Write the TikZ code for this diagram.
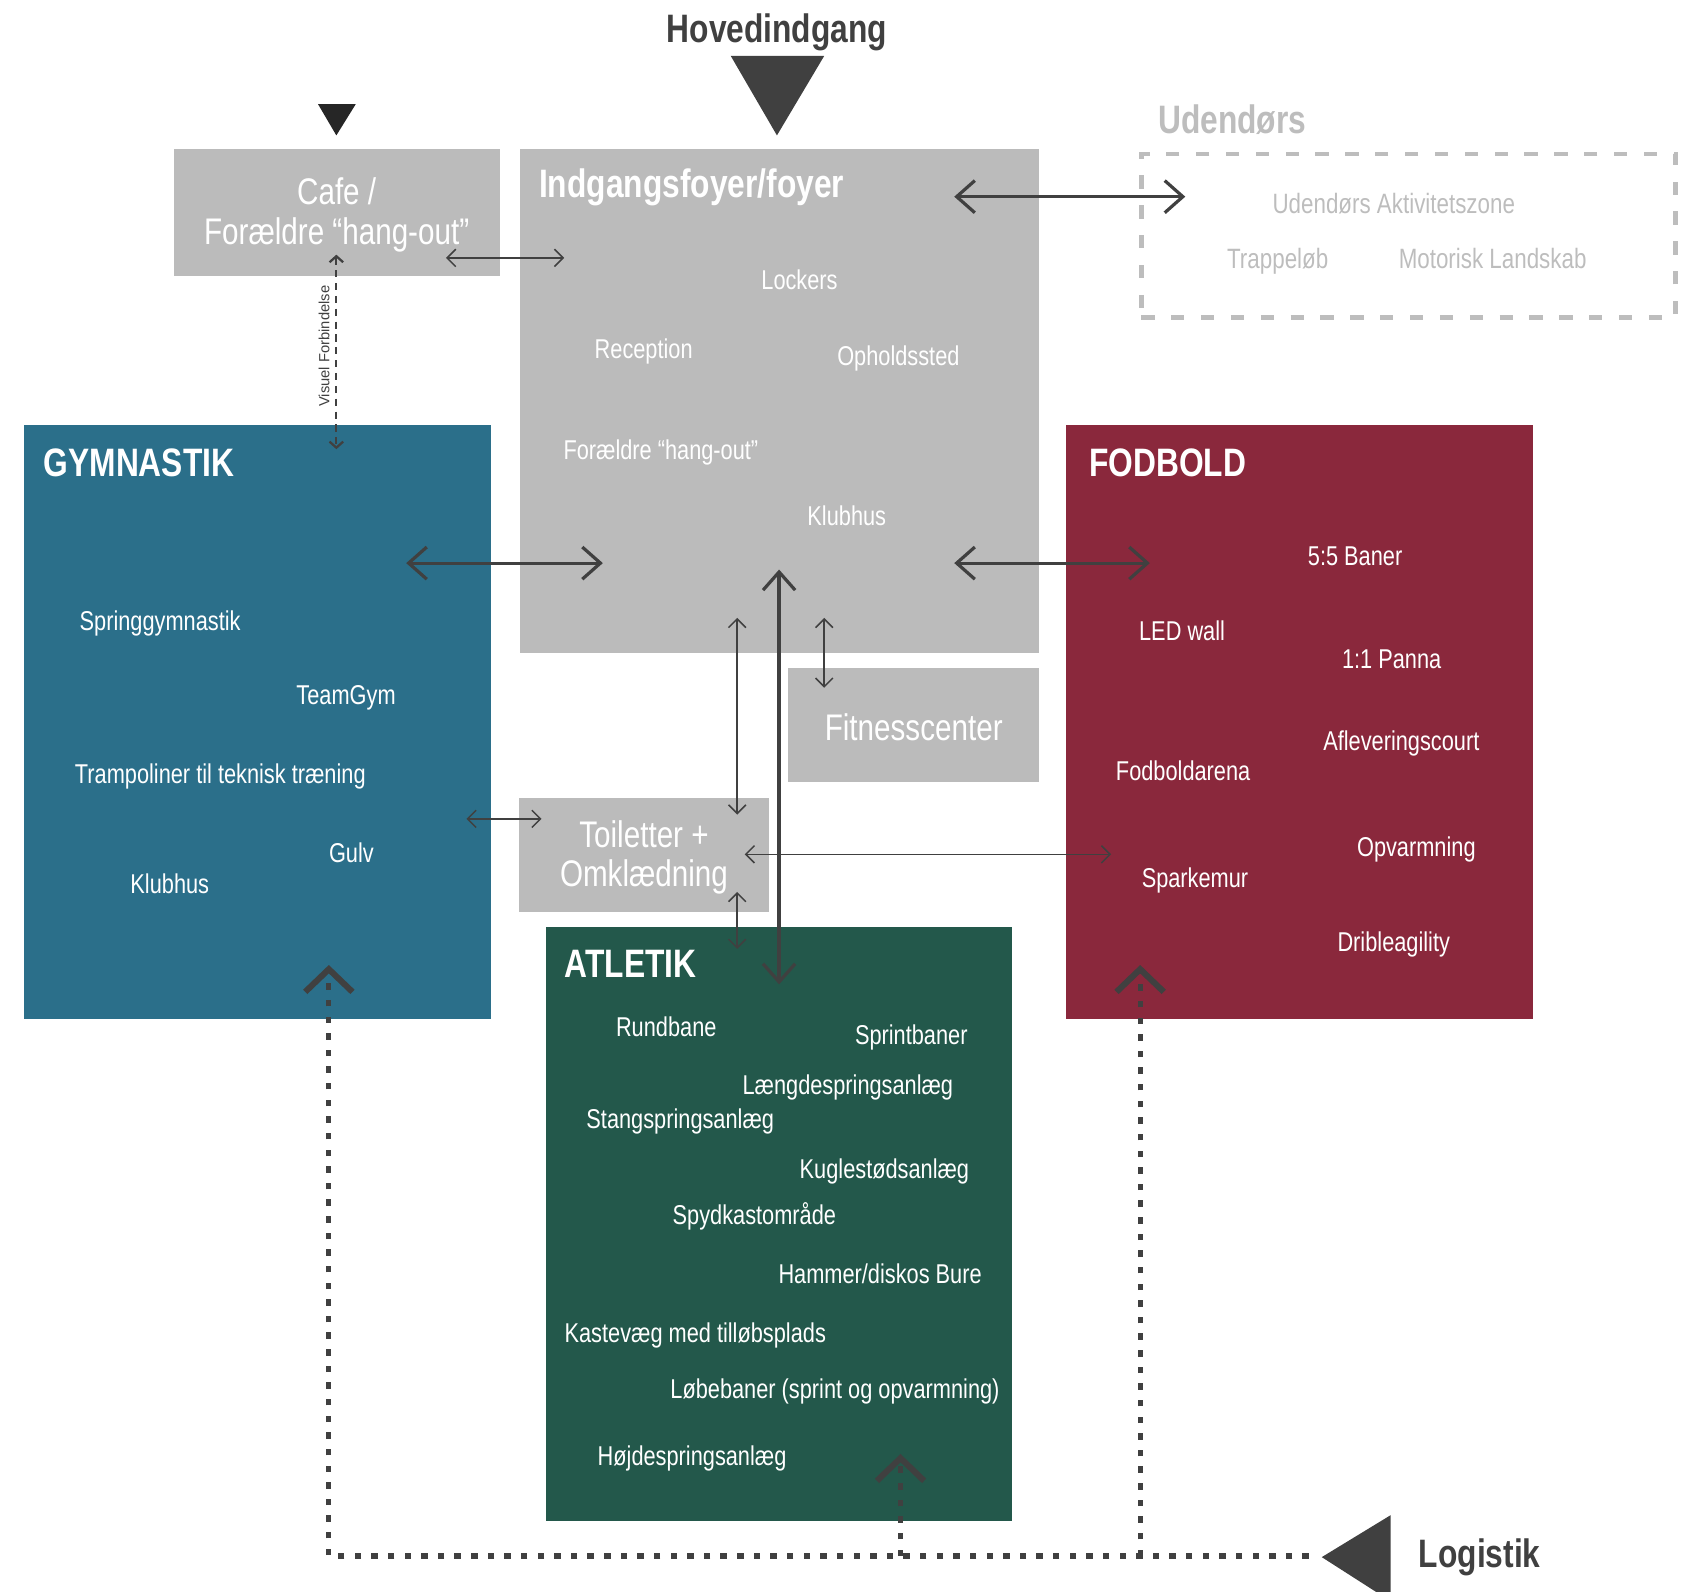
\documentclass[tikz,border=0pt]{standalone}
\usepackage{fontspec}
\setmainfont{Liberation Sans}[FakeStretch=0.8]
\newfontfamily\plainsans{Liberation Sans}
\usetikzlibrary{arrows.meta}

\definecolor{boxgray}{HTML}{BBBBBB}
\definecolor{gymblue}{HTML}{2B6F8A}
\definecolor{fodred}{HTML}{8A283C}
\definecolor{atlgreen}{HTML}{23584B}
\definecolor{darkink}{HTML}{404040}
\definecolor{paleink}{HTML}{BDBDBD}

\tikzset{
  room/.style={inner sep=0pt, anchor=north west},
  item/.style={text=white, inner sep=0pt, anchor=mid, font=\fontsize{7.2}{8.6}\selectfont},
  outitem/.style={item, text=paleink, font=\fontsize{7.4}{8.8}\selectfont},
  roomtitle/.style={text=white, inner sep=0pt, anchor=west, font=\bfseries\fontsize{10.5}{12}\selectfont},
  roomtext/.style={text=white, align=center, yshift=-0.6pt, font=\fontsize{9.8}{10.5}\selectfont},
  biglink/.style={draw=darkink, line width=0.85pt,
    {Straight Barb[length=4.8pt,width=8.5pt]}-{Straight Barb[length=4.8pt,width=8.5pt]}},
  link/.style={draw=darkink, line width=0.4pt,
    {Straight Barb[length=2.3pt,width=4.6pt]}-{Straight Barb[length=2.3pt,width=4.6pt]}},
  supply/.style={draw=darkink, line width=1.4pt, dash pattern=on 1.7pt off 2.7pt},
  supplytip/.style={-{Straight Barb[length=6pt,width=12.5pt,line width=1.6pt]}}
}

\begin{document}
\begin{tikzpicture}[x=0.01cm,y=-0.01cm]
  \useasboundingbox (0,0) rectangle (1568,1481);
  \clip (0,0) rectangle (1568,1481);

  % entrances
  \node[text=darkink, font=\bfseries\fontsize{10.5}{12}\selectfont] (mainlabel) at (723,30) {Hovedindgang};
  \fill[darkink] (680,52) -- (767,52) -- (723,126) -- cycle;
  \fill[black!85] (296,97) -- (331,97) -- (313,126) -- cycle;

  % rooms
  \node[room, fill=boxgray, minimum width=3.03cm, minimum height=1.18cm] (cafe) at (161,138) {};
  \node[roomtext] at (cafe.center) {Cafe /\\Forældre “hang-out”};

  \node[room, fill=boxgray, minimum width=4.83cm, minimum height=4.69cm] (foyer) at (483,138) {};
  \node[roomtitle] at (501,174) {Indgangsfoyer/foyer};
  \node[item] at (744,260) {Lockers};
  \node[item] at (599,324) {Reception};
  \node[item] at (836,331) {Opholdssted};
  \node[item] at (615,418) {Forældre “hang-out”};
  \node[item] at (788,480) {Klubhus};

  \node[room, fill=boxgray, minimum width=2.33cm, minimum height=1.06cm] (fitness) at (733,621) {};
  \node[roomtext] at (fitness.center) {Fitnesscenter};

  \node[room, fill=boxgray, minimum width=2.33cm, minimum height=1.06cm] (toilet) at (482,742) {};
  \node[roomtext] at (toilet.center) {Toiletter +\\Omklædning};

  \node[room, fill=gymblue, minimum width=4.34cm, minimum height=5.52cm] (gym) at (22,395) {};
  \node[roomtitle] at (40,431) {GYMNASTIK};
  \node[item] at (149,577) {Springgymnastik};
  \node[item] at (322,646) {TeamGym};
  \node[item] at (205,720) {Trampoliner til teknisk træning};
  \node[item] at (327,793) {Gulv};
  \node[item] at (158,822) {Klubhus};

  \node[room, fill=fodred, minimum width=4.35cm, minimum height=5.52cm] (fodbold) at (991,395) {};
  \node[roomtitle] at (1013,431) {FODBOLD};
  \node[item] at (1261,517) {5:5 Baner};
  \node[item] at (1100,587) {LED wall};
  \node[item] at (1295,613) {1:1 Panna};
  \node[item] at (1304,689) {Afleveringscourt};
  \node[item] at (1101,717) {Fodboldarena};
  \node[item] at (1318,788) {Opvarmning};
  \node[item] at (1112,817) {Sparkemur};
  \node[item] at (1297,876) {Dribleagility};

  \node[room, fill=atlgreen, minimum width=4.34cm, minimum height=5.52cm] (atletik) at (507,862) {};
  \node[roomtitle] at (525,897) {ATLETIK};
  \node[item] at (620,955) {Rundbane};
  \node[item] at (848,963) {Sprintbaner};
  \node[item] at (789,1009) {Længdespringsanlæg};
  \node[item] at (633,1041) {Stangspringsanlæg};
  \node[item] at (823,1087) {Kuglestødsanlæg};
  \node[item] at (702,1130) {Spydkastområde};
  \node[item] at (819,1185) {Hammer/diskos Bure};
  \node[item] at (647,1240) {Kastevæg med tilløbsplads};
  \node[item] at (777,1292) {Løbebaner (sprint og opvarmning)};
  \node[item] at (644,1354) {Højdespringsanlæg};

  % outdoor zone
  \node[text=paleink, font=\bfseries\fontsize{10.5}{12}\selectfont, anchor=west, inner sep=0pt] (outlabel) at (1077,111) {Udendørs};
  \node[room, draw=paleink, line width=1.2pt, dash pattern=on 3.5pt off 4.4pt,
        minimum width=4.97cm, minimum height=1.52cm] (outdoor) at (1060,141) {};
  \node[outitem] at (1297,189) {Udendørs Aktivitetszone};
  \node[outitem] at (1189,241) {Trappeløb};
  \node[outitem] at (1389,241) {Motorisk Landskab};

  % connection points
  \coordinate (cafeE) at (415,240);
  \coordinate (foyerW) at (525,240);
  \coordinate (foyerNE) at (888,183);
  \coordinate (outdoorW) at (1103,183);
  \coordinate (cafeS) at (313,237);
  \coordinate (gymN) at (313,418);
  \coordinate (gymE) at (378,524);
  \coordinate (foyerSW) at (561,524);
  \coordinate (foyerSE) at (888,524);
  \coordinate (fodboldW) at (1070,524);
  \coordinate (foyerS1) at (686,575);
  \coordinate (toiletN) at (686,758);
  \coordinate (foyerS2) at (767,575);
  \coordinate (fitnessN) at (767,640);
  \coordinate (gymSE) at (434,762);
  \coordinate (toiletW) at (504,762);
  \coordinate (toiletE) at (693,795);
  \coordinate (fodboldSW) at (1034,795);
  \coordinate (toiletS) at (686,830);
  \coordinate (atletikN) at (686,883);
  \coordinate (foyerS) at (725,530);
  \coordinate (atletikNE) at (725,916);

  % links
  \draw[link] (cafeE) -- (foyerW);
  \draw[biglink] (foyerNE) -- (outdoorW);
  \draw[darkink, line width=0.6pt, dash pattern=on 1.9pt off 1.5pt,
        {Straight Barb[length=1.6pt,width=3.6pt]}-{Straight Barb[length=1.6pt,width=3.6pt]}]
        (cafeS) -- node[pos=0.47, above, rotate=90, inner sep=1.5pt, text=darkink,
        font=\plainsans\fontsize{3.9}{4.5}\selectfont] {Visuel Forbindelse} (gymN);
  \draw[biglink] (gymE) -- (foyerSW);
  \draw[biglink] (foyerSE) -- (fodboldW);
  \draw[link] (foyerS1) -- (toiletN);
  \draw[link] (foyerS2) -- (fitnessN);
  \draw[link] (gymSE) -- (toiletW);
  \draw[link] (toiletE) -- (fodboldSW);
  \draw[link] (toiletS) -- (atletikN);
  \draw[biglink] (foyerS) -- (atletikNE);

  % logistics
  \coordinate (logEnd) at (1218,1448);
  \coordinate (gymS) at (306,898);
  \coordinate (atletikS) at (838,1353);
  \coordinate (fodboldS) at (1061,898);
  \draw[supply, supplytip] (logEnd) -- (306,1448) -- (gymS);
  \draw[supply, supplytip] (838,1448) -- (atletikS);
  \draw[supply, supplytip] (1061,1448) -- (fodboldS);
  \fill[darkink] (1294,1410) -- (1294,1490) -- (1230,1449) -- cycle;
  \node[text=darkink, font=\bfseries\fontsize{10.5}{12}\selectfont] (loglabel) at (1377,1449) {Logistik};
\end{tikzpicture}
\end{document}
